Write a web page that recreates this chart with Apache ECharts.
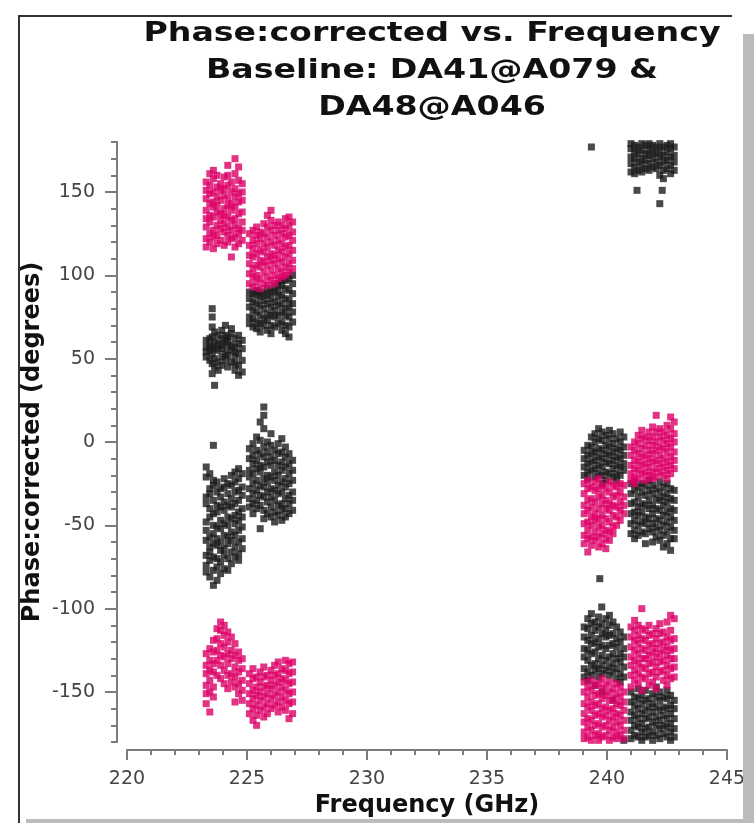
<!DOCTYPE html>
<html>
<head>
<meta charset="utf-8">
<script src="https://cdn.jsdelivr.net/npm/echarts@6/dist/echarts.min.js"></script>
<style>
  html, body { margin: 0; padding: 0; background: #fff; }
  #chart { width: 754px; height: 823px; }
</style>
</head>
<body>
<div id="chart"></div>
<script>
// phase per channel: [freq GHz, [phase deg, ...]]
// spw 223-225 GHz
const blackA_hi = [
  [223.3, [51, 57, 61, 54]],
  [223.45, [49, 55, 62, 58]],
  [223.55, [41, 47, 53, 57, 63, 69, 75, 80]],
  [223.65, [34, 45, 50, 56, 60, 66]],
  [223.8, [43, 48, 55, 59, 64]],
  [223.95, [46, 51, 56, 62, 67, 58]],
  [224.1, [49, 53, 60, 64, 70]],
  [224.2, [45, 52, 57, 63, 61]],
  [224.35, [48, 55, 58, 65, 68]],
  [224.5, [43, 47, 51, 57, 62, 54]],
  [224.65, [40, 46, 53, 59, 64]],
  [224.8, [42, 49, 56, 61]]
];
const blackA_lo = [
  [223.3, [-15, -21, -33, -37, -48, -53, -59, -68, -74, -78]],
  [223.45, [-19, -28, -31, -40, -45, -57, -63, -66, -71, -81]],
  [223.6, [-2, -23, -26, -35, -43, -50, -55, -61, -69, -77, -86]],
  [223.75, [-24, -30, -38, -42, -51, -58, -62, -70, -75, -83]],
  [223.9, [-28, -33, -39, -47, -52, -60, -65, -72, -79]],
  [224.05, [-22, -27, -36, -41, -49, -56, -64, -68, -76]],
  [224.2, [-25, -31, -38, -45, -50, -57, -61, -70, -77]],
  [224.35, [-20, -26, -34, -39, -46, -54, -59, -66, -73]],
  [224.5, [-18, -24, -30, -37, -44, -49, -56, -63, -69]],
  [224.65, [-16, -22, -29, -35, -42, -47, -53, -60, -67, -71]],
  [224.8, [-19, -27, -32, -40, -45, -51, -58, -64]]
];
const pinkA_hi = [
  [223.3, [117, 122, 129, 134, 139, 146, 151, 156]],
  [223.45, [120, 125, 132, 136, 143, 149, 154, 161]],
  [223.6, [116, 123, 127, 135, 141, 144, 150, 158, 163]],
  [223.75, [119, 124, 130, 138, 142, 147, 153, 160]],
  [223.9, [121, 128, 133, 137, 145, 151, 155]],
  [224.05, [118, 126, 131, 136, 140, 148, 152, 159]],
  [224.2, [120, 124, 129, 135, 142, 146, 154, 160, 166]],
  [224.35, [111, 122, 127, 133, 139, 143, 150, 156]],
  [224.5, [117, 123, 130, 134, 141, 147, 152, 161, 170]],
  [224.65, [119, 125, 128, 137, 144, 149, 157, 165]],
  [224.8, [121, 127, 132, 138, 145, 150, 155]]
];
const pinkA_lo = [
  [223.3, [-127, -134, -139, -146, -151, -157]],
  [223.45, [-124, -131, -137, -143, -150, -162]],
  [223.6, [-119, -126, -133, -138, -147, -153]],
  [223.75, [-112, -118, -125, -131, -140]],
  [223.9, [-108, -113, -121, -128, -134, -142]],
  [224.05, [-110, -116, -123, -129, -137, -145]],
  [224.2, [-114, -120, -127, -133, -140, -148]],
  [224.35, [-117, -125, -130, -139, -144]],
  [224.5, [-121, -128, -135, -141, -147, -156]],
  [224.65, [-126, -131, -138, -145, -151]],
  [224.8, [-130, -136, -143, -149, -155]]
];
// spw 225-227 GHz
const blackB_hi = [
  [225.1, [71, 75, 81, 86, 90]],
  [225.25, [69, 74, 79, 84, 89]],
  [225.4, [68, 72, 78, 83, 88, 91]],
  [225.55, [66, 71, 76, 82, 87, 90]],
  [225.7, [70, 74, 80, 85, 89]],
  [225.85, [67, 73, 77, 83, 88, 92]],
  [226.0, [65, 70, 76, 81, 86, 90]],
  [226.15, [69, 75, 79, 84, 90, 93]],
  [226.3, [71, 76, 82, 87, 91, 95]],
  [226.45, [67, 72, 78, 83, 88, 94, 97]],
  [226.6, [65, 70, 76, 80, 86, 92, 97]],
  [226.75, [63, 69, 75, 81, 85, 91, 98]],
  [226.9, [72, 78, 83, 89, 95, 100]]
];
const blackB_lo = [
  [225.1, [-4, -10, -17, -21, -28, -34, -39]],
  [225.25, [-1, -8, -13, -19, -25, -31, -37, -43]],
  [225.4, [3, -5, -11, -16, -23, -29, -35, -40]],
  [225.55, [12, 1, -7, -14, -18, -26, -32, -38, -52]],
  [225.7, [21, 16, 8, -3, -9, -15, -22, -27, -33, -41, -46]],
  [225.85, [0, -6, -12, -20, -24, -30, -36, -43]],
  [226.0, [5, -2, -9, -14, -21, -28, -33, -39, -45]],
  [226.15, [-5, -11, -18, -23, -29, -35, -42, -48]],
  [226.3, [-1, -7, -14, -20, -26, -31, -38, -44]],
  [226.45, [2, -6, -12, -17, -24, -30, -37, -41, -47]],
  [226.6, [-3, -9, -15, -22, -27, -34, -40, -45]],
  [226.75, [-7, -13, -19, -25, -32, -37, -43]],
  [226.9, [-11, -17, -23, -30, -35, -41]]
];
const pinkB_hi = [
  [225.1, [95, 101, 107, 112, 118, 125]],
  [225.25, [93, 99, 104, 111, 116, 121, 127]],
  [225.4, [96, 100, 106, 113, 119, 124, 129]],
  [225.55, [92, 98, 105, 109, 115, 122, 126]],
  [225.7, [95, 102, 108, 114, 119, 125, 131]],
  [225.85, [94, 99, 106, 111, 117, 123, 129, 136]],
  [226.0, [97, 103, 109, 113, 120, 127, 133, 139]],
  [226.15, [95, 100, 107, 112, 118, 124, 130]],
  [226.3, [98, 104, 110, 115, 121, 127, 132]],
  [226.45, [99, 102, 108, 114, 119, 125, 130]],
  [226.6, [100, 105, 111, 117, 123, 128, 134]],
  [226.75, [102, 107, 113, 118, 124, 130, 135]],
  [226.9, [104, 109, 115, 121, 126, 132]]
];
const pinkB_lo = [
  [225.1, [-139, -145, -151, -157, -163]],
  [225.25, [-136, -142, -149, -154, -160, -167]],
  [225.4, [-141, -147, -152, -158, -164, -170]],
  [225.55, [-138, -144, -150, -155, -161]],
  [225.7, [-135, -141, -147, -153, -159, -165]],
  [225.85, [-140, -146, -151, -157, -163]],
  [226.0, [-137, -143, -148, -154, -160]],
  [226.15, [-134, -140, -146, -152, -158]],
  [226.3, [-132, -139, -144, -150, -156, -162]],
  [226.45, [-136, -142, -147, -153, -159]],
  [226.6, [-131, -137, -143, -149, -155, -161]],
  [226.75, [-133, -139, -145, -151, -157, -166]],
  [226.9, [-132, -138, -144, -150, -156, -163]]
];
// spw 239-241 GHz
const blackC_hi = [
  [239.05, [-5, -10, -15, -20]],
  [239.2, [-2, -8, -13, -18, -22]],
  [239.35, [3, -3, -7, -12, -17]],
  [239.5, [5, 0, -6, -11, -16, -21]],
  [239.65, [8, 2, -4, -9, -14, -19]],
  [239.8, [6, 1, -5, -10, -15, -20, -25]],
  [239.95, [4, -2, -7, -12, -18, -23]],
  [240.1, [7, 2, -3, -8, -13, -19]],
  [240.25, [5, -1, -6, -11, -16, -21]],
  [240.4, [2, -4, -9, -14, -19, -23]],
  [240.55, [6, 0, -5, -10, -15, -20]],
  [240.7, [3, -3, -8, -13, -17]]
];
const blackC_lo = [
  [239.05, [-111, -117, -124, -129, -136, -141]],
  [239.2, [-106, -112, -119, -125, -131, -138, -143]],
  [239.35, [-103, -109, -116, -121, -127, -134, -140]],
  [239.5, [-108, -113, -120, -126, -133, -137, -146]],
  [239.65, [-105, -111, -118, -123, -130, -136, -141]],
  [239.8, [-109, -115, -122, -128, -134, -139, -150]],
  [239.95, [-106, -113, -117, -124, -131, -137]],
  [240.1, [-104, -110, -116, -122, -129, -135, -140]],
  [240.25, [-108, -115, -121, -127, -133, -138, -155]],
  [240.4, [-111, -118, -123, -130, -136, -142]],
  [240.55, [-114, -120, -127, -132, -139, -144]],
  [240.7, [-117, -124, -129, -135, -141, -179]]
];
const pinkC_hi = [
  [239.05, [-25, -31, -38, -43, -49, -56, -61]],
  [239.2, [-23, -28, -35, -41, -48, -53, -58, -66]],
  [239.35, [-27, -34, -39, -45, -50, -57, -62]],
  [239.5, [-24, -29, -36, -43, -47, -54, -59]],
  [239.65, [-22, -28, -33, -40, -46, -51, -57, -63]],
  [239.8, [-26, -32, -37, -44, -50, -55, -61]],
  [239.95, [-28, -35, -40, -46, -53, -58, -64]],
  [240.1, [-24, -30, -37, -41, -48, -54, -59]],
  [240.25, [-26, -33, -38, -44, -51, -55]],
  [240.4, [-27, -32, -39, -45, -50]],
  [240.55, [-25, -30, -36, -41, -47]],
  [240.7, [-26, -33, -38, -43]]
];
const pinkC_lo = [
  [239.05, [-144, -150, -157, -163, -168, -174, -178]],
  [239.2, [-147, -153, -159, -166, -171, -177]],
  [239.35, [-143, -149, -156, -161, -167, -173, -179]],
  [239.5, [-146, -152, -158, -164, -170, -176]],
  [239.65, [-145, -151, -157, -163, -169, -175, -179]],
  [239.8, [-142, -148, -154, -160, -165, -171, -177]],
  [239.95, [-146, -152, -159, -164, -170, -176]],
  [240.1, [-144, -150, -155, -161, -167, -173, -179]],
  [240.25, [-148, -154, -160, -165, -171, -177]],
  [240.4, [-145, -151, -157, -163, -168, -174, -178]],
  [240.55, [-147, -153, -158, -164, -170, -176]],
  [240.7, [-150, -156, -161, -167, -173, -178]]
];
// spw 241-243 GHz
const blackD_top = [
  [241.0, [162, 167, 171, 176, 179]],
  [241.15, [161, 165, 170, 174, 178]],
  [241.3, [163, 168, 173, 177]],
  [241.45, [162, 166, 170, 175, 179]],
  [241.6, [164, 169, 173, 178]],
  [241.75, [163, 167, 172, 176, 179]],
  [241.9, [165, 170, 174, 178]],
  [242.05, [164, 168, 173, 177]],
  [242.2, [160, 166, 171, 175, 179]],
  [242.35, [158, 163, 168, 172, 177]],
  [242.5, [164, 169, 174, 178]],
  [242.65, [161, 166, 171, 176, 179]],
  [242.8, [163, 168, 172, 177]]
];
const blackD_mid = [
  [241.0, [-25, -31, -37, -43, -49, -55]],
  [241.15, [-24, -29, -36, -42, -47, -53, -58]],
  [241.3, [-27, -33, -39, -44, -50, -56]],
  [241.45, [-25, -30, -37, -42, -48, -54]],
  [241.6, [-26, -32, -38, -45, -49, -55, -61]],
  [241.75, [-23, -29, -35, -40, -46, -52]],
  [241.9, [-26, -31, -38, -43, -49, -54, -60]],
  [242.05, [-28, -34, -40, -46, -51, -57]],
  [242.2, [-24, -30, -35, -41, -47, -53, -59]],
  [242.35, [-27, -33, -38, -44, -50, -56, -63]],
  [242.5, [-25, -31, -36, -42, -48, -54, -61]],
  [242.65, [-28, -34, -40, -45, -51, -58, -65]],
  [242.8, [-29, -35, -41, -47, -53, -58]]
];
const blackD_lo = [
  [241.0, [-150, -156, -162, -167, -173, -178]],
  [241.15, [-153, -158, -164, -170, -176]],
  [241.3, [-148, -154, -160, -166, -171, -177]],
  [241.45, [-152, -157, -163, -169, -174, -179]],
  [241.6, [-149, -155, -161, -166, -172, -177]],
  [241.75, [-154, -159, -165, -171, -176]],
  [241.9, [-151, -157, -162, -168, -174, -179]],
  [242.05, [-147, -153, -159, -165, -170, -176]],
  [242.2, [-150, -155, -161, -167, -172, -178]],
  [242.35, [-153, -159, -164, -170, -175]],
  [242.5, [-149, -154, -160, -166, -171, -177]],
  [242.65, [-152, -158, -163, -169, -174, -179]],
  [242.8, [-155, -160, -166, -172, -177]]
];
const pinkD_hi = [
  [241.0, [-3, -8, -14, -19, -23]],
  [241.15, [0, -5, -11, -16, -21, -25]],
  [241.3, [4, -1, -7, -12, -17, -22]],
  [241.45, [7, 2, -4, -9, -14, -19]],
  [241.6, [3, -2, -8, -13, -18, -23]],
  [241.75, [6, 1, -5, -10, -15, -20]],
  [241.9, [9, 3, -2, -7, -12, -18, -22]],
  [242.05, [16, 6, 0, -5, -11, -16, -21]],
  [242.2, [8, 3, -3, -8, -13, -18]],
  [242.35, [6, 1, -4, -10, -15, -20]],
  [242.5, [10, 4, -1, -6, -12, -17, -22]],
  [242.65, [15, 8, 2, -3, -9, -14, -19]],
  [242.8, [12, 5, 0, -6, -11, -16]]
];
const pinkD_lo = [
  [241.0, [-111, -117, -123, -129, -134, -140, -147]],
  [241.15, [-107, -113, -119, -125, -131, -137, -143]],
  [241.3, [-110, -116, -121, -127, -133, -139, -145]],
  [241.45, [-100, -112, -118, -124, -130, -135, -141, -149]],
  [241.6, [-113, -119, -125, -130, -136, -142]],
  [241.75, [-110, -116, -122, -128, -133, -139, -146]],
  [241.9, [-115, -121, -126, -132, -138, -144]],
  [242.05, [-112, -118, -124, -129, -135, -141, -148]],
  [242.2, [-109, -115, -121, -127, -132, -138]],
  [242.35, [-114, -120, -125, -131, -137, -143]],
  [242.5, [-108, -117, -123, -128, -134, -140, -146]],
  [242.65, [-104, -113, -119, -125, -130, -136, -142]],
  [242.8, [-106, -118, -124, -130, -135, -141]]
];
// stray black points
const blackStray = [[239.35, 177], [241.25, 151], [242.3, 151], [242.2, 143], [239.7, -82], [239.78, -99]];

const yTicks = [-150, -100, -50, 0, 50, 100, 150];
const titleLines = ['Phase:corrected vs. Frequency', 'Baseline: DA41@A079 &', 'DA48@A046'];

const BLACK = '#1c1c1c';
const PINK = '#dc0066';
const AXIS = '#7c7c7c';

const toPoints = cols => cols.flatMap(([f, vals]) => vals.map(v => [f, v]));

const blackPts = [blackA_hi, blackA_lo, blackB_hi, blackB_lo, blackC_hi, blackC_lo,
  blackD_top, blackD_mid, blackD_lo].flatMap(toPoints).concat(blackStray);
const pinkPts = [pinkA_hi, pinkA_lo, pinkB_hi, pinkB_lo, pinkC_hi, pinkC_lo,
  pinkD_hi, pinkD_lo].flatMap(toPoints);

const chart = echarts.init(document.getElementById('chart'));

const yBase = {
  type: 'value', min: -180, max: 180, position: 'left', offset: 10,
  splitLine: { show: false },
  axisLine: { show: true, onZero: false, lineStyle: { color: AXIS, width: 2 } }
};

// title drawn as graphic text so it can be widened like the original
const titleGraphics = titleLines.map((t, i) => ({
  type: 'text', x: 432, y: [34, 71, 108][i], scaleX: 1.23, z: 50,
  style: {
    text: t, align: 'center', verticalAlign: 'middle', fill: '#111',
    font: 'bold 27px "DejaVu Sans"'
  }
}));

chart.setOption({
  animation: false,
  backgroundColor: '#fff',
  grid: { left: 127, top: 142, width: 600, height: 600 },
  xAxis: {
    type: 'value', min: 220, max: 245, interval: 5, offset: 8,
    name: 'Frequency (GHz)', nameLocation: 'middle', nameGap: 41,
    nameTextStyle: { fontFamily: 'DejaVu Sans', fontWeight: 'bold', fontSize: 24, color: '#111' },
    axisLine: { onZero: false, lineStyle: { color: AXIS, width: 2 } },
    axisTick: { length: 10, lineStyle: { color: AXIS, width: 2 } },
    minorTick: { show: true, splitNumber: 5, length: 5, lineStyle: { color: AXIS, width: 2 } },
    axisLabel: { margin: 20, fontFamily: 'DejaVu Sans', fontSize: 19, color: '#444' },
    splitLine: { show: false }
  },
  yAxis: [
    Object.assign({}, yBase, {
      interval: 10,
      name: 'Phase:corrected (degrees)', nameLocation: 'middle', nameGap: 72,
      nameTextStyle: { fontFamily: 'DejaVu Sans', fontWeight: 'bold', fontSize: 24, color: '#111' },
      axisTick: { length: 6, lineStyle: { color: AXIS, width: 2 } },
      axisLabel: { show: false }
    }),
    Object.assign({}, yBase, {
      axisTick: { customValues: yTicks, length: 12, lineStyle: { color: AXIS, width: 2 } },
      axisLabel: { customValues: yTicks, margin: 22, fontFamily: 'DejaVu Sans', fontSize: 19, color: '#444' }
    })
  ],
  graphic: titleGraphics.concat([
    { type: 'rect', z: 100, shape: { x: 18, y: 15, width: 2, height: 808 }, style: { fill: '#333' } },
    { type: 'rect', z: 100, shape: { x: 18, y: 15, width: 714, height: 2 }, style: { fill: '#333' } },
    { type: 'rect', z: 100, shape: { x: 743, y: 34, width: 11, height: 789 }, style: { fill: '#bcbcbc' } },
    { type: 'rect', z: 100, shape: { x: 26, y: 819, width: 728, height: 4 }, style: { fill: '#bcbcbc' } }
  ]),
  series: [
    { type: 'scatter', yAxisIndex: 0, symbol: 'rect', symbolSize: 7, itemStyle: { color: BLACK }, data: blackPts },
    { type: 'scatter', yAxisIndex: 0, symbol: 'rect', symbolSize: 7, itemStyle: { color: PINK }, data: pinkPts }
  ]
});
</script>
</body>
</html>
